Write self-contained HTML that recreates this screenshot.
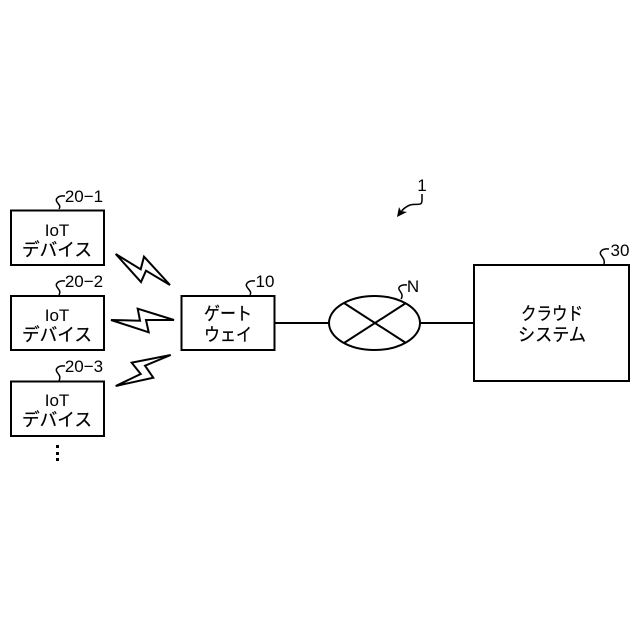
<!DOCTYPE html>
<html>
<head>
<meta charset="utf-8">
<style>
html,body{margin:0;padding:0;background:#fff;}
svg{display:block;}
text{font-family:"Liberation Sans","Noto Sans CJK JP",sans-serif;fill:#000;}
.jp{font-size:18px;stroke:#000;stroke-width:.25px;}
</style>
</head>
<body>
<svg width="640" height="640" viewBox="0 0 640 640" xmlns="http://www.w3.org/2000/svg">
<rect width="640" height="640" fill="#fff"/>
<g fill="#fff" stroke="#000" stroke-width="2">
<rect x="11" y="210.500" width="93" height="54.500"/>
<rect x="11" y="296" width="93" height="54"/>
<rect x="11" y="381.500" width="93" height="54.500"/>
<rect x="181.500" y="296" width="93" height="54"/>
<rect x="474" y="265" width="155" height="116"/>
</g>
<g stroke="#000" stroke-width="2" fill="none">
<line x1="275" y1="323" x2="329" y2="323"/>
<line x1="420" y1="323" x2="474" y2="323"/>
<ellipse cx="374.500" cy="323" rx="45.500" ry="27"/>
<line x1="344" y1="303" x2="406" y2="343"/>
<line x1="344" y1="343" x2="406" y2="303"/>
</g>
<g fill="none" stroke="#000" stroke-width="2" stroke-linejoin="miter">
<polygon points="115.700,254 141,282 146,270.700 170,285 144,256.700 140.700,269.300"/>
<polygon points="111,320 140,320.700 137.700,308.700 174,320 146,320 148.700,332.300"/>
<polygon points="115.700,386 153.300,377.700 145,365.700 170.700,355 131.700,362.700 140.700,374"/>
</g>
<g fill="none" stroke="#000" stroke-width="1.500">
<path d="M65 196 C58 195 55 199 57 202 C59 205 61 206 59 209"/>
<path d="M65 281 C58 280 55 284 57 287 C59 290 61 291 59 295"/>
<path d="M65 366 C58 365 55 369 57 372 C59 375 61 376 59 381"/>
<path d="M255 281 C248 280 245 284 247 287 C249 290 252 292 250 295"/>
<path d="M407 285 C400 284 397 288 400 291 C402 294 403 296 401 299"/>
<path d="M609 249 C602 248 599 252 601 255 C603 258 605 260 604 264"/>
<path d="M422 194 L422 200 C422 207 417 203 410 205 C405 207 403 209 401 212"/>
</g>
<polygon points="397,217 399,207 401,211 407,212" fill="#000"/>
<g font-size="17" text-anchor="middle">
<text x="84" y="202">20−1</text>
<text x="84" y="287">20−2</text>
<text x="84" y="372">20−3</text>
<text x="265" y="287">10</text>
<text x="413" y="292">N</text>
<text x="620" y="256">30</text>
<text x="422" y="191">1</text>
<text x="57" y="236">IoT</text>
<text class="jp" x="57" y="256" textLength="70" lengthAdjust="spacingAndGlyphs">デバイス</text>
<text x="57" y="321">IoT</text>
<text class="jp" x="57" y="341" textLength="70" lengthAdjust="spacingAndGlyphs">デバイス</text>
<text x="57" y="406">IoT</text>
<text class="jp" x="57" y="426" textLength="70" lengthAdjust="spacingAndGlyphs">デバイス</text>
<text class="jp" x="228" y="320" textLength="48" lengthAdjust="spacingAndGlyphs">ゲート</text>
<text class="jp" x="228" y="341" textLength="48" lengthAdjust="spacingAndGlyphs">ウェイ</text>
<text class="jp" x="552" y="320" textLength="62" lengthAdjust="spacingAndGlyphs">クラウド</text>
<text class="jp" x="552" y="341" textLength="68" lengthAdjust="spacingAndGlyphs">システム</text>
</g>
<g fill="#000">
<rect x="56" y="445" width="3" height="3"/>
<rect x="56" y="452" width="3" height="3"/>
<rect x="56" y="458" width="3" height="3"/>
</g>
</svg>
</body>
</html>
